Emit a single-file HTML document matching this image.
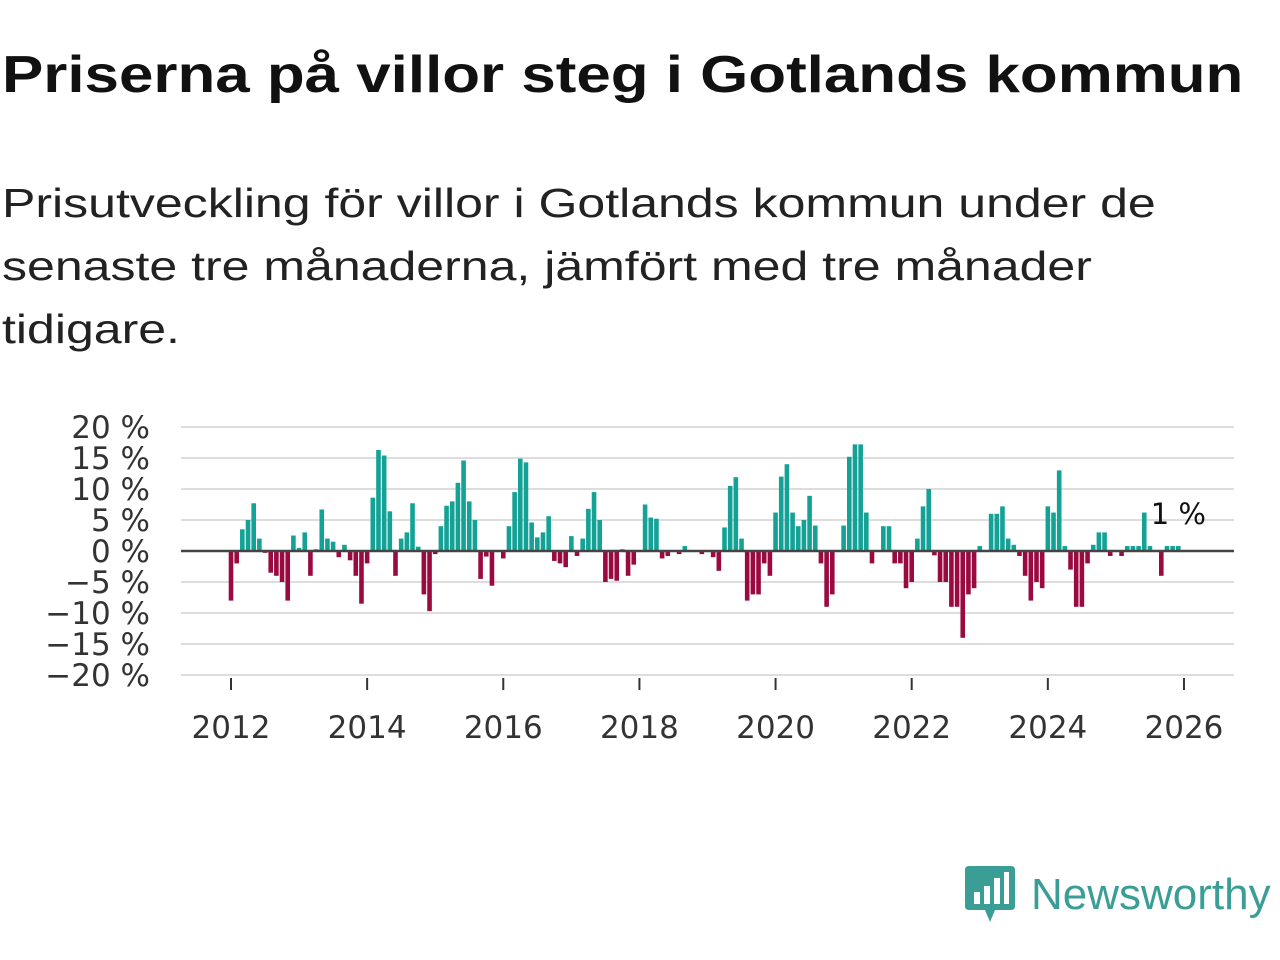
<!DOCTYPE html>
<html><head><meta charset="utf-8">
<style>
body{margin:0;width:1280px;height:960px;background:#fff;font-family:"Liberation Sans","DejaVu Sans",sans-serif;color:#111;overflow:hidden;position:relative}
h1{position:absolute;left:2px;top:45px;margin:0;font-size:52px;font-weight:bold;white-space:nowrap;transform-origin:0 0;transform:scaleX(1.19)}
.sub{position:absolute;left:2px;top:172px;margin:0;font-size:41px;line-height:63px;white-space:nowrap;color:#222;transform-origin:0 0;transform:scaleX(1.22)}
.logo{position:absolute;left:965px;top:866px;display:flex;align-items:center}
.logo span{font-size:44px;color:#3a9e96;margin-left:16px}
</style></head><body>
<h1>Priserna på villor steg i Gotlands kommun</h1>
<p class="sub">Prisutveckling för villor i Gotlands kommun under de<br>senaste tre månaderna, jämfört med tre månader<br>tidigare.</p>
<svg id="chart" width="1280" height="760" style="position:absolute;left:0;top:0" viewBox="0 0 1280 760"></svg>
<div class="logo">
<svg width="50" height="58" viewBox="0 0 50 58"><path d="M4 0H46Q50 0 50 4V40Q50 44 46 44H30L25 56L20 44H4Q0 44 0 40V4Q0 0 4 0Z" fill="#3a9e96"/><rect x="9" y="26" width="6" height="12" fill="#fff"/><rect x="19" y="20" width="6" height="18" fill="#fff"/><rect x="29" y="12" width="6" height="26" fill="#fff"/><rect x="39" y="6" width="5" height="32" fill="#fff"/></svg>
<span>Newsworthy</span></div>
<script>
const values=[-8,-2,3.5,5,7.7,2,-0.3,-3.5,-4,-5,-8,2.5,
0.5,3,-4,0.3,6.7,2,1.5,-1,1,-1.5,-4,-8.5,
-2,8.6,16.3,15.4,6.4,-4,2,3,7.7,0.7,-7,-9.7,
-0.5,4,7.3,8,11,14.6,8,5,-4.5,-0.9,-5.6,0,
-1.2,4,9.5,14.9,14.3,4.6,2.2,3,5.6,-1.6,-2,-2.6,
2.4,-0.8,2,6.8,9.5,5,-5,-4.5,-4.8,0.3,-4,-2.2,
0,7.5,5.4,5.2,-1.2,-0.8,0,-0.5,0.8,0,0,-0.5,
0,-1,-3.2,3.8,10.5,11.9,2,-8,-7,-7,-2,-4,
6.2,12,14,6.2,4,5,8.9,4.1,-2,-9,-7,0,
4.1,15.2,17.2,17.2,6.2,-2,0,4,4,-2,-2,-6,
-5,2,7.2,10,-0.7,-5,-5,-9,-9,-14,-7,-6,
0.8,0,6,6,7.2,2,1,-0.8,-4,-8,-5,-6,
7.2,6.2,13,0.8,-3,-9,-9,-2,1,3,3,-0.8,
0,-0.8,0.8,0.8,0.8,6.2,0.8,0,-4,0.8,0.8,0.8];
const yTicks=[20,15,10,5,0,-5,-10,-15,-20];
const yTickLabels=["20 %","15 %","10 %","5 %","0 %","−5 %","−10 %","−15 %","−20 %"];
const xTicks=[2012,2014,2016,2018,2020,2022,2024,2026];
const lastLabel="1 %";
const svg=document.getElementById('chart');
const NS='http://www.w3.org/2000/svg';
const y=v=>551-v*6.2;
const xYear=yr=>231+(yr-2012)*68.07;
const xIdx=i=>xYear(2012+i/12);
const F='DejaVu Sans, sans-serif';
function mk(t,a){const e=document.createElementNS(NS,t);for(const k in a)e.setAttribute(k,a[k]);svg.appendChild(e);return e;}
yTicks.forEach((v,i)=>{
 const g=mk('line',{x1:181,x2:1234,y1:y(v),y2:y(v),stroke:'#ddd','stroke-width':2});
 
 
 const t=mk('text',{x:150,y:y(v)+11,'text-anchor':'end','font-size':31,fill:'#333','font-family':F});
 t.textContent=yTickLabels[i];
 
 
});
xTicks.forEach(yr=>{
 const l=mk('line',{x1:xYear(yr),x2:xYear(yr),y1:678,y2:690,stroke:'#333','stroke-width':2});
 
 
 const t=mk('text',{x:xYear(yr),y:738,'text-anchor':'middle','font-size':31,fill:'#333','font-family':F});
 t.textContent=yr;
 
 
});
values.forEach((v,i)=>{
 const x=xIdx(i)-2.3;
 const r=mk('rect',{x:x,width:4.6,y:Math.min(y(v),y(0)),height:Math.abs(y(v)-y(0)),fill:v>=0?'#13a295':'#9a0a40'});
 
 
});
const z=mk('line',{x1:181,x2:1234,y1:y(0),y2:y(0),stroke:'#444','stroke-width':2.5});


const lab=mk('text',{x:xIdx(values.length-1),y:524,'text-anchor':'middle','font-size':29,fill:'#111','font-family':F});
lab.textContent=lastLabel;


</script>
</body></html>
